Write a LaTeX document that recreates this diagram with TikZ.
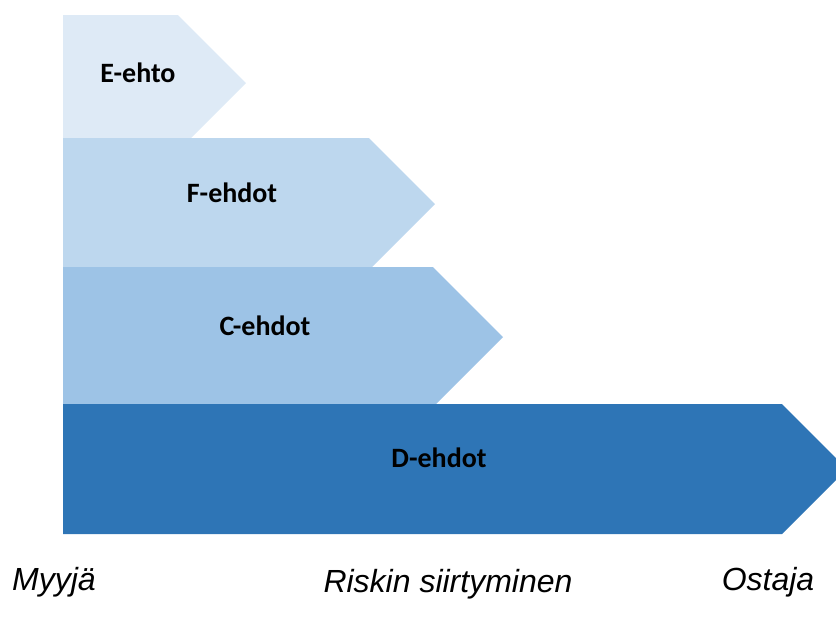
\documentclass[tikz,border=0pt]{standalone}
\usepackage{fontspec}
\setmainfont{Carlito}
\newfontfamily\arialfont{Liberation Sans}
\usetikzlibrary{positioning}

\definecolor{eblue}{HTML}{DEEAF6}
\definecolor{fblue}{HTML}{BDD7EE}
\definecolor{cblue}{HTML}{9DC3E6}
\definecolor{dblue}{HTML}{2E75B6}

\begin{document}
\begin{tikzpicture}[x=1pt,y=-1pt,
        term/.style={font=\bfseries\fontsize{28}{30}\selectfont,anchor=base,inner sep=0pt},
        party/.style={font=\arialfont\itshape\fontsize{32}{34}\selectfont,anchor=base,inner sep=0pt}]
  \useasboundingbox (0,0) rectangle (836,622);
  \clip (0,0) rectangle (836,622);
  % risk arrows, later ones lie on top
  \fill[eblue] (63,15) -- (178,15) -- (246,83) -- (178,151) -- (63,151) -- cycle;
  \fill[fblue] (63,138) -- (369,138) -- (435,204) -- (369,270) -- (63,270) -- cycle;
  \fill[cblue] (63,267) -- (433,267) -- (503,337) -- (433,407) -- (63,407) -- cycle;
  \fill[dblue] (63,404) -- (782,404) -- (847,469) -- (782,534) -- (63,534) -- cycle;
  \node[term] (e) at (138,82)  {E-ehto};
  \node[term] (f) at (232,202) {F-ehdot};
  \node[term] (c) at (265,335) {C-ehdot};
  \node[term] (d) at (439,467) {D-ehdot};
  % parties
  \node[party] (seller) at (54,590)  {Myyjä};
  \node[party] (risk)   at (448,592) {Riskin siirtyminen};
  \node[party] (buyer)  at (768,590) {Ostaja};
\end{tikzpicture}
\end{document}
